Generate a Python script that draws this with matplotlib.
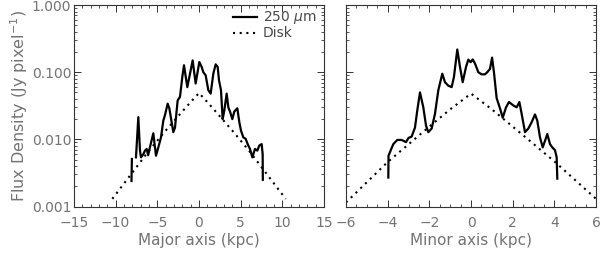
import numpy as np
import matplotlib
matplotlib.use('Agg')
import matplotlib.pyplot as plt
from matplotlib.ticker import MultipleLocator, LogLocator, FixedLocator, FixedFormatter, NullFormatter

TEXT_GREY = '#737373'
plt.rcParams['font.family'] = ['DejaVu Sans']

# Major axis profile (250 um), kpc vs Jy/pixel; NaN marks the gap in the data
major_x = [-8.10, -8.05, np.nan, -7.56, -7.28, -7.08, -6.96, -6.68, -6.48, -6.28, -6.10, -5.90,
           -5.48, -5.16, -4.88, -4.56, -4.28, -4.08, -3.76, -3.56, -3.08, -2.88, -2.56,
           -2.28, -2.00, -1.80, -1.40, -0.76, -0.40, 0.04, 0.32, 0.52, 0.80, 1.12, 1.40,
           1.72, 2.00, 2.24, 2.40, 2.64, 2.84, 3.04, 3.32, 3.52, 3.72, 4.00, 4.24, 4.60,
           4.84, 5.04, 5.32, 5.60, 5.84, 6.12, 6.40, 6.72, 7.00, 7.24, 7.52, 7.64, 7.66]
major_flux = [0.0024, 0.0051, np.nan, 0.0054, 0.0214, 0.0068, 0.0054, 0.0060, 0.0068, 0.0072,
              0.0058, 0.0075, 0.0123, 0.0057, 0.0076, 0.0107, 0.019, 0.023, 0.034, 0.029,
              0.0128, 0.015, 0.038, 0.043, 0.085, 0.127, 0.060, 0.150, 0.068, 0.142,
              0.120, 0.100, 0.090, 0.054, 0.048, 0.095, 0.131, 0.120, 0.076, 0.054,
              0.020, 0.027, 0.048, 0.030, 0.026, 0.020, 0.026, 0.029, 0.018, 0.0135,
              0.0107, 0.0102, 0.0085, 0.0072, 0.0054, 0.0072, 0.0068, 0.0081, 0.0085,
              0.0060, 0.0025]
major_disk_x = [-10.4, -8.0, -6.0, -4.0, -2.0, -1.0, 0.0, 1.0, 2.0, 4.0, 6.0, 8.0, 10.4]
major_disk = [0.0013, 0.0032, 0.0068, 0.0135, 0.026, 0.036, 0.049, 0.036, 0.026, 0.0135,
              0.0068, 0.0032, 0.0013]

# Minor axis profile
minor_x = [-3.97, -3.96, -3.86, -3.73, -3.54, -3.33, -3.12, -3.00, -2.85, -2.69, -2.58,
           -2.45, -2.29, -2.16, -2.05, -1.89, -1.73, -1.57, -1.38, -1.25, -1.09, -0.93,
           -0.82, -0.66, -0.53, -0.40, -0.24, -0.13, -0.02, 0.08, 0.19, 0.35, 0.51, 0.67,
           0.78, 0.91, 1.01, 1.10, 1.23, 1.39, 1.52, 1.68, 1.82, 2.03, 2.19, 2.32, 2.43,
           2.59, 2.75, 2.91, 3.07, 3.18, 3.31, 3.44, 3.55, 3.66, 3.79, 3.90, 4.03, 4.11,
           4.14]
minor_flux = [0.0027, 0.0057, 0.0068, 0.0085, 0.0098, 0.0098, 0.0091, 0.0105, 0.0110,
              0.015, 0.027, 0.050, 0.030, 0.016, 0.0128, 0.0145, 0.024, 0.054, 0.095,
              0.071, 0.063, 0.060, 0.085, 0.218, 0.120, 0.071, 0.120, 0.154, 0.141,
              0.155, 0.135, 0.100, 0.093, 0.093, 0.100, 0.112, 0.165, 0.100, 0.041,
              0.029, 0.021, 0.030, 0.036, 0.032, 0.030, 0.036, 0.024, 0.0128, 0.0145,
              0.018, 0.0235, 0.019, 0.0107, 0.0076, 0.0095, 0.012, 0.0085, 0.0076,
              0.0069, 0.0054, 0.0026]
minor_disk_x = [-6.0, -4.0, -2.0, -1.0, 0.0, 1.0, 2.0, 4.0, 6.0]
minor_disk = [0.00115, 0.0046, 0.0155, 0.028, 0.048, 0.028, 0.0155, 0.0047, 0.0013]

fig = plt.figure(figsize=(6.0, 2.54), dpi=100)
ax1 = fig.add_axes([0.1233, 0.187, 0.4167, 0.793])
ax2 = fig.add_axes([0.5767, 0.187, 0.4167, 0.793])

dot_style = dict(color='black', linewidth=1.5, linestyle=(0, (1, 2.2)))
for ax, x, f, dx, d in [(ax1, major_x, major_flux, major_disk_x, major_disk),
                        (ax2, minor_x, minor_flux, minor_disk_x, minor_disk)]:
    ax.plot(x, f, color='black', linewidth=1.6, label=r'250 $\mu$m')
    ax.plot(dx, d, label='Disk', **dot_style)
    ax.set_yscale('log')
    ax.set_ylim(0.001, 1.0)
    ax.tick_params(which='both', direction='in', top=True, right=True,
                   colors='#333333', labelcolor=TEXT_GREY, labelsize=10)
    ax.tick_params(which='major', length=5, width=0.7)
    ax.tick_params(which='minor', length=2.5, width=0.6)
    ax.tick_params(axis='x', which='both', pad=7)
    ax.tick_params(axis='y', which='both', pad=2)
    ax.yaxis.set_major_locator(FixedLocator([0.001, 0.01, 0.1, 1.0]))
    ax.yaxis.set_minor_locator(LogLocator(base=10, subs=np.arange(2, 10), numticks=10))
    ax.yaxis.set_minor_formatter(NullFormatter())
    for sp in ax.spines.values():
        sp.set_color('#333333')
        sp.set_linewidth(0.8)

ax1.set_xlim(-15, 15)
ax1.xaxis.set_major_locator(MultipleLocator(5))
ax1.xaxis.set_minor_locator(MultipleLocator(1))
ax1.yaxis.set_major_formatter(FixedFormatter(['0.001', '0.010', '0.100', '1.000']))
ax1.set_xlabel('Major axis (kpc)', color=TEXT_GREY, fontsize=11, labelpad=2)
ax1.set_ylabel(r'Flux Density (Jy pixel$^{-1}$)', color=TEXT_GREY, fontsize=11.5, labelpad=1)

ax2.set_xlim(-6, 6)
ax2.xaxis.set_major_locator(MultipleLocator(2))
ax2.xaxis.set_minor_locator(MultipleLocator(0.5))
ax2.yaxis.set_major_formatter(NullFormatter())
ax2.set_xlabel('Minor axis (kpc)', color=TEXT_GREY, fontsize=11, labelpad=2)

leg = ax1.legend(loc='upper right', bbox_to_anchor=(1.005, 1.02), frameon=False,
                 fontsize=10, handlelength=1.75, handletextpad=0.4, labelspacing=0.0,
                 borderaxespad=0.2)
for t in leg.get_texts():
    t.set_color('#4a4a4a')

fig.savefig('out.png', dpi=100)
